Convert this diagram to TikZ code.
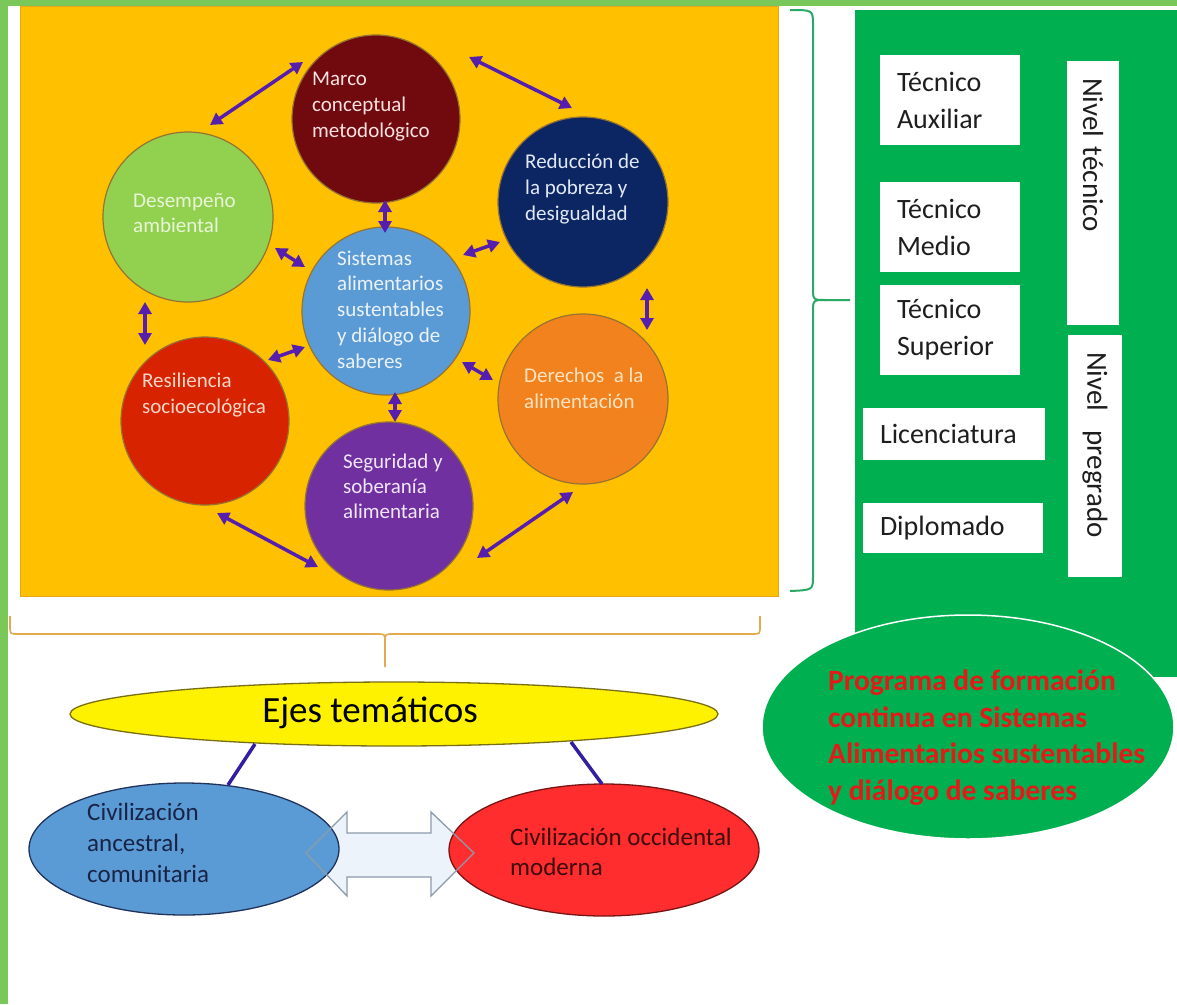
\documentclass[tikz,border=0pt]{standalone}
\usepackage{fontspec}
\setmainfont{Carlito}
\usetikzlibrary{shapes.geometric,arrows.meta,calc}

\definecolor{frameg}{RGB}{122,200,90}
\definecolor{orangebg}{RGB}{255,192,0}
\definecolor{orangeedge}{RGB}{232,165,20}
\definecolor{panelg}{RGB}{0,176,80}
\definecolor{bracketg}{RGB}{40,170,100}
\definecolor{bracketo}{RGB}{228,170,80}
\definecolor{arrowc}{RGB}{85,30,175}
\definecolor{circedge}{RGB}{150,115,50}
\definecolor{cmarco}{RGB}{112,10,15}
\definecolor{cdesemp}{RGB}{146,208,80}
\definecolor{creduc}{RGB}{12,38,100}
\definecolor{csist}{RGB}{91,155,213}
\definecolor{cresil}{RGB}{215,35,0}
\definecolor{csegur}{RGB}{112,48,160}
\definecolor{cderech}{RGB}{242,130,30}
\definecolor{tmarcoc}{RGB}{250,225,225}
\definecolor{tdesempc}{RGB}{232,245,215}
\definecolor{treducc}{RGB}{225,232,245}
\definecolor{tsistc}{RGB}{235,242,250}
\definecolor{tresilc}{RGB}{250,215,200}
\definecolor{tsegurc}{RGB}{240,230,250}
\definecolor{tderechc}{RGB}{255,228,195}
\definecolor{boxtext}{RGB}{30,30,30}
\definecolor{progred}{RGB}{230,25,25}
\definecolor{ejesedge}{RGB}{120,110,20}
\definecolor{ejesline}{RGB}{50,30,160}
\definecolor{civblue}{RGB}{91,155,213}
\definecolor{civblueedge}{RGB}{30,50,90}
\definecolor{civatext}{RGB}{25,35,70}
\definecolor{civred}{RGB}{255,45,45}
\definecolor{civrededge}{RGB}{120,20,20}
\definecolor{civotext}{RGB}{60,10,10}
\definecolor{dblfill}{RGB}{236,243,250}
\definecolor{dbledge}{RGB}{140,155,170}

\begin{document}
\begin{tikzpicture}[x=1pt,y=-1pt,
  circ/.style={circle, draw=circedge, line width=1.2pt, inner sep=0pt, minimum size=#1},
  ctext/.style={anchor=base west, inner sep=0pt, align=left},
  cfont/.style={font=\fontsize{21pt}{#1}\selectfont},
  biarr/.style={{Triangle[length=12pt,width=13pt]}-{Triangle[length=12pt,width=13pt]}, line width=3.5pt, draw=arrowc},
  wbox/.style={fill=white, inner xsep=17pt, inner ysep=0pt, align=left, text=boxtext, font=\fontsize{28pt}{37pt}\selectfont},
  nbox/.style={fill=white, rotate=-90, inner xsep=17pt, inner ysep=0pt, align=left, text=boxtext, font=\fontsize{29pt}{35pt}\selectfont},
  oval/.style={ellipse, inner sep=0pt, line width=1.3pt},
  brace/.style={line width=2pt}
]
\useasboundingbox (0,0) rectangle (1177,1004);
\fill[white] (0,0) rectangle (1177,1004);
\fill[frameg] (0,0) rectangle (1177,6);
\fill[frameg] (0,0) rectangle (8,1004);

% orange panel
\filldraw[fill=orangebg, draw=orangeedge, line width=1pt] (20,6) rectangle (778,596);

% circles
\node[circ=168pt, fill=cmarco] (marco) at (376,119) {};
\node[circ=170pt, fill=cdesemp] (desemp) at (188,217) {};
\node[circ=170pt, fill=creduc] (reduc) at (583,202) {};
\node[circ=168pt, fill=csist] (sist) at (386,311) {};
\node[circ=168pt, fill=cresil] (resil) at (205,421) {};
\node[circ=168pt, fill=csegur] (segur) at (389,506) {};
\node[circ=170pt, fill=cderech] (derech) at (583,399) {};

% (base anchor = baseline of the last line)
\node[ctext, cfont=26pt, text=tmarcoc] (tmarco) at (312,137) {Marco\\conceptual\\metodológico};
\node[ctext, cfont=25pt, text=tdesempc] (tdesemp) at (133,232) {Desempeño\\ambiental};
\node[ctext, cfont=26pt, text=treducc] (treduc) at (525,220) {Reducción de\\la pobreza y\\desigualdad};
\node[ctext, cfont=25.7pt, text=tsistc] (tsist) at (337,368) {Sistemas\\alimentarios\\sustentables\\y diálogo de\\saberes};
\node[ctext, cfont=26pt, text=tresilc] (tresil) at (142,413) {Resiliencia\\socioecológica};
\node[ctext, cfont=25pt, text=tsegurc] (tsegur) at (343,518) {Seguridad y\\soberanía\\alimentaria};
\node[ctext, cfont=26pt, text=tderechc] (tderech) at (524,408) {Derechos\ \ a la\\alimentación};

% arrows between circles
\draw[biarr] ($(marco)+(-73,-57)$) -- ($(desemp)+(22,-92)$);
\draw[biarr] ($(marco)+(93,-62)$) -- ($(reduc)+(-11,-94)$);
\draw[biarr] ($(marco)+(9,81)$) -- ($(sist)+(-1,-78)$);
\draw[biarr] ($(desemp)+(87,31)$) -- ($(sist)+(-81,-44)$);
\draw[biarr] ($(sist)+(77,-56)$) -- ($(reduc)+(-83,40)$);
\draw[biarr] ($(desemp)+(-43,85)$) -- ($(resil)+(-60,-76)$);
\draw[biarr] ($(resil)+(63,-61)$) -- ($(sist)+(-81,36)$);
\draw[biarr] ($(sist)+(9,81)$) -- ($(segur)+(6,-84)$);
\draw[biarr] ($(sist)+(76,51)$) -- ($(derech)+(-90,-19)$);
\draw[biarr] ($(reduc)+(64,86)$) -- ($(derech)+(64,-69)$);
\draw[biarr] ($(resil)+(12,92)$) -- ($(segur)+(-71,61)$);
\draw[biarr] ($(segur)+(88,52)$) -- ($(derech)+(-10,93)$);

% right green panel
\fill[panelg] (855,10) rectangle (1177,677);
\node[wbox, minimum width=140pt, minimum height=90pt, text width=106pt] (taux) at (950,100) {Técnico\\Auxiliar};
\node[wbox, minimum width=140pt, minimum height=90pt, text width=106pt] (tmed) at (950,227) {Técnico\\Medio};
\node[wbox, minimum width=140pt, minimum height=90pt, text width=106pt] (tsup) at (950,330) {Técnico\\Superior};
\node[wbox, minimum width=182pt, minimum height=52pt, text width=148pt] (lic) at (954,434) {Licenciatura};
\node[wbox, minimum width=180pt, minimum height=50pt, text width=146pt] (dip) at (953,528) {Diplomado};
\node[nbox, minimum width=264pt, minimum height=52pt, text width=230pt] (ntec) at (1093,193) {Nivel técnico};
\node[nbox, minimum width=242pt, minimum height=54pt, text width=208pt] (npre) at (1095,456) {Nivel\ \ pregrado};

% green ellipse
\node[oval, fill=panelg, draw=white, line width=1.5pt, minimum width=412pt, minimum height=224pt] (prog) at (968,727) {};
\node[anchor=base west, inner sep=0pt, align=left, text=progred, font=\bfseries\fontsize{29.5pt}{36.5pt}\selectfont] (tprog) at (828,800) {Programa de formación\\continua en Sistemas\\Alimentarios sustentables\\y diálogo de saberes};

% braces
\draw[brace, bracketg] (790,10) .. controls (813,10) .. (813,25) -- (813,288) .. controls (813,300) .. (826,300) -- (850,300);
\draw[brace, bracketg] (826,300) .. controls (813,300) .. (813,312) -- (813,576) .. controls (813,590) .. (790,591);
\draw[bracketo, line width=1.6pt] (10,616) -- (10,626) .. controls (10,634) .. (18,634) -- (377,634) .. controls (385,634) .. (385,642) -- (385,667);
\draw[bracketo, line width=1.6pt] (385,642) .. controls (385,634) .. (393,634) -- (752,634) .. controls (760,634) .. (760,626) -- (760,616);

% bottom part
\path[fill=dblfill] (306,853) -- (347,812) -- (347,833) -- (431,833) -- (431,812) -- (474,853) -- (431,896) -- (431,877) -- (347,877) -- (347,896) -- cycle;
\node[oval, fill=yellow, draw=ejesedge, minimum width=648pt, minimum height=64pt] (ejes) at (394,714) {};
\node[anchor=base, inner sep=0pt, font=\fontsize{37pt}{44pt}\selectfont] (tejes) at (370,722) {Ejes temáticos};
\node[oval, fill=civblue, draw=civblueedge, minimum width=310pt, minimum height=132pt] (civa) at (184,849) {};
\node[oval, fill=civred, draw=civrededge, minimum width=310pt, minimum height=132pt] (civo) at (604,850) {};
\draw[dbledge, line width=1.3pt] (306,853) -- (347,812) -- (347,833) -- (431,833) -- (431,812) -- (474,853) -- (431,896) -- (431,877) -- (347,877) -- (347,896) -- cycle;
\node[anchor=base west, inner sep=0pt, align=left, text=civatext, font=\fontsize{25pt}{31pt}\selectfont] (tciva) at (87,882) {Civilización\\ancestral,\\comunitaria};
\node[anchor=base west, inner sep=0pt, align=left, text=civotext, font=\fontsize{25pt}{30pt}\selectfont] (tcivo) at (510,875) {Civilización occidental\\moderna};
\draw[ejesline, line width=3.5pt] ($(ejes)+(-139,30)$) -- ($(civa)+(44,-64)$);
\draw[ejesline, line width=3.5pt] ($(ejes)+(177,28)$) -- ($(civo)+(-2,-66)$);
\end{tikzpicture}
\end{document}
